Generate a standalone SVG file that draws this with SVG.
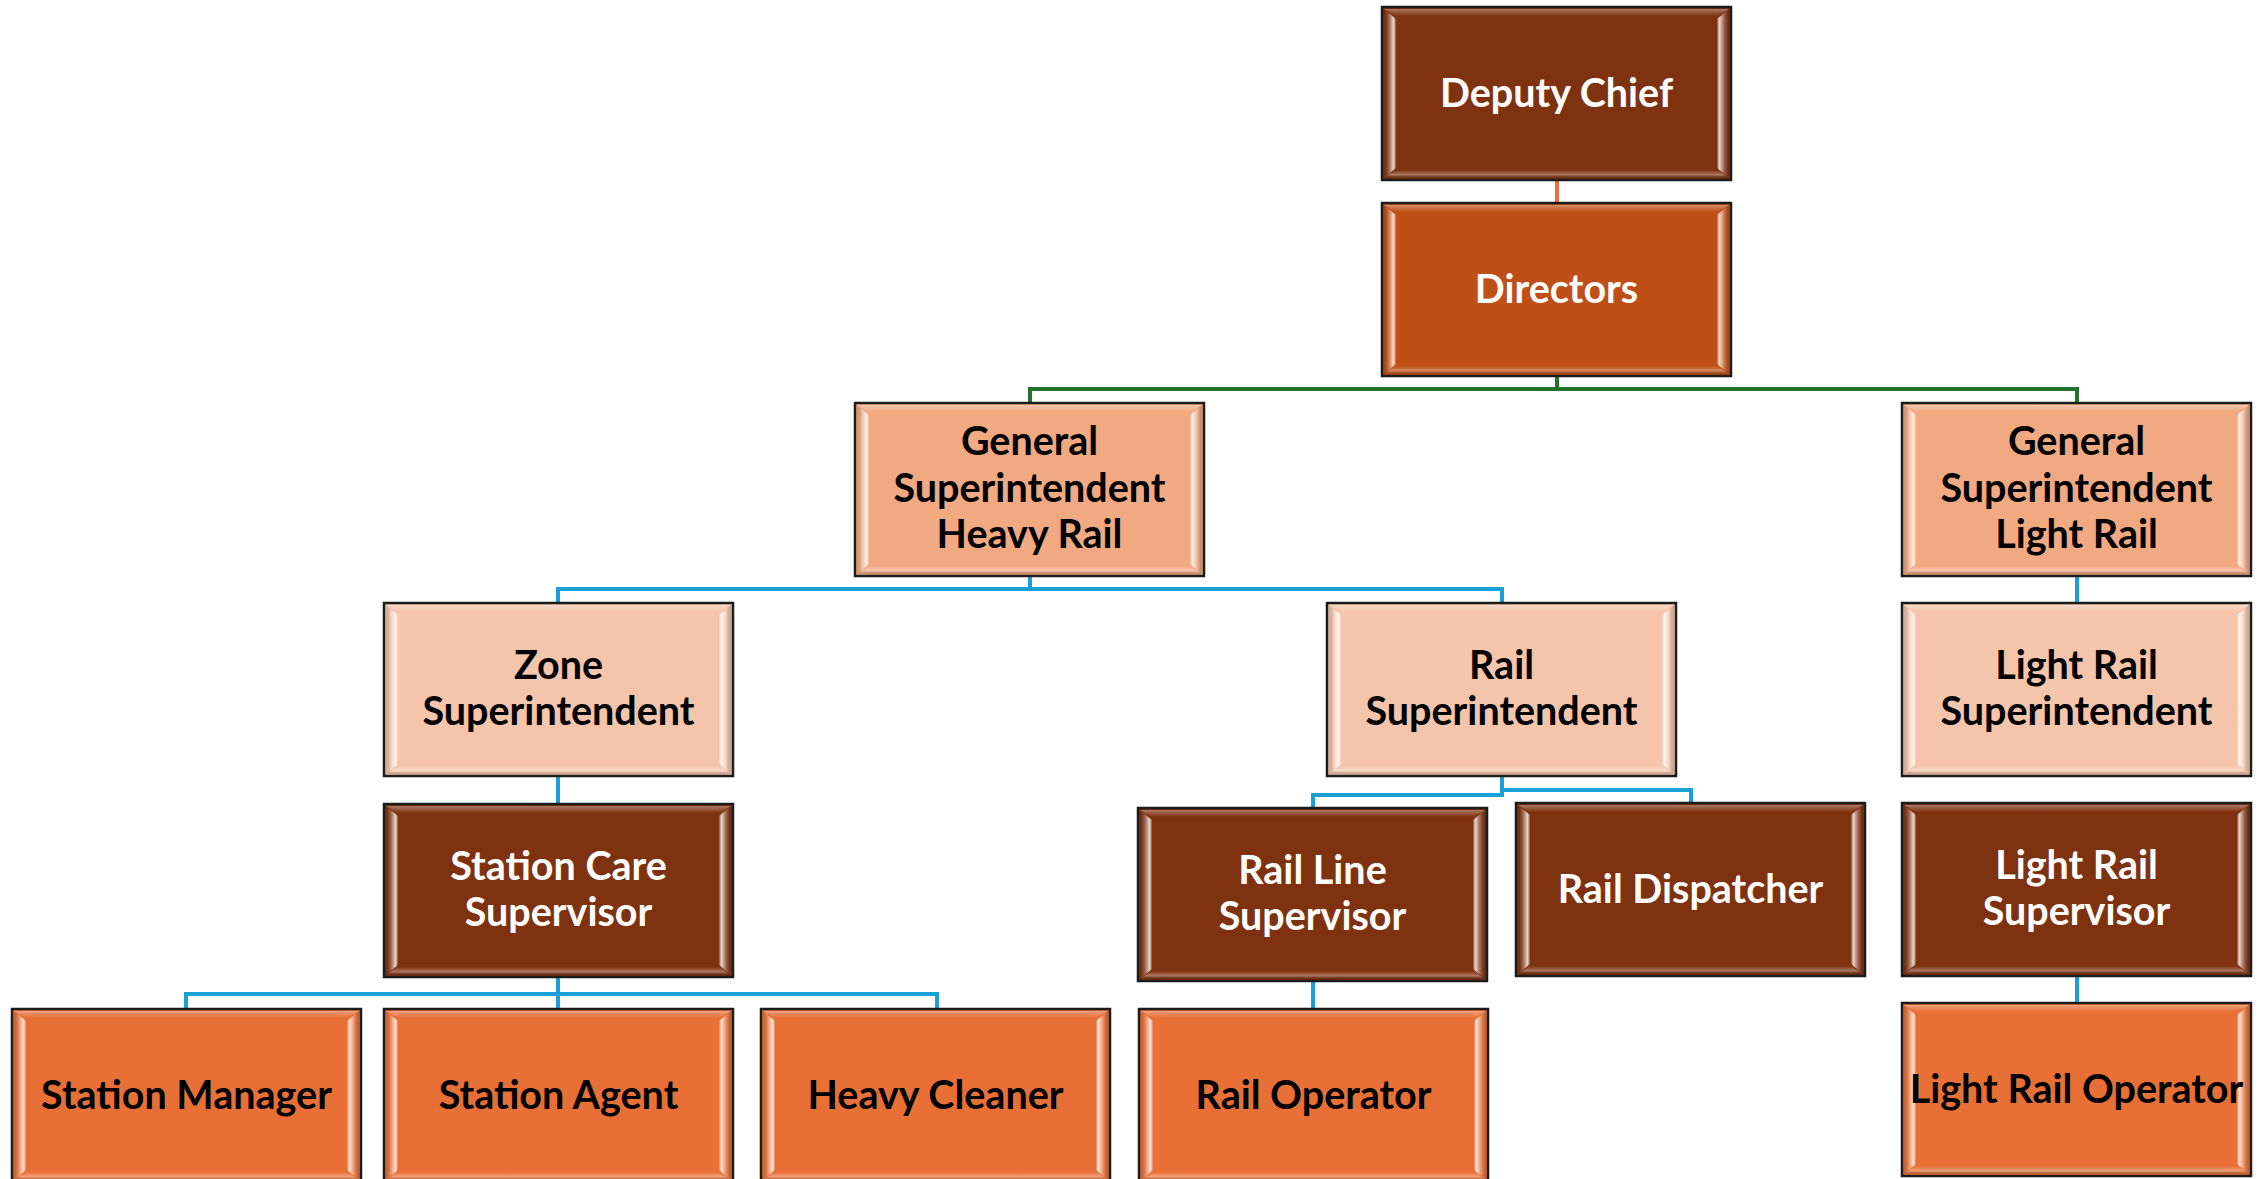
<svg xmlns="http://www.w3.org/2000/svg" xmlns:xlink="http://www.w3.org/1999/xlink" width="2262" height="1179" viewBox="0 0 2262 1179">
<style>
.c1{fill:#7F3210}
.c2{fill:#BF4F16}
.c3{fill:#F1A982}
.c4{fill:#F4C5AB}
.c5{fill:#E86F35}
.bd{fill:none;stroke:#1c1c1c;stroke-width:2.5}
text{font-family:Lato,"Open Sans","Liberation Sans",sans-serif;font-weight:700;font-size:39.5px;text-anchor:middle}
.w{fill:#ffffff}
.k{fill:#000000}
.cn{fill:none;stroke-width:4;stroke-linejoin:miter;stroke-linecap:butt}
.g{stroke:#22722C}
.bl{stroke:#1AA0D8}
.o{stroke:#E8703A}
</style>
<defs>
<linearGradient id="gl" x1="0" y1="0" x2="1" y2="0">
<stop offset="0" stop-color="#000" stop-opacity="0.12"/>
<stop offset="0.45" stop-color="#fff" stop-opacity="0.3"/>
<stop offset="0.8" stop-color="#fff" stop-opacity="0.8"/>
<stop offset="1" stop-color="#fff" stop-opacity="0.15"/>
</linearGradient>
<linearGradient id="gr" x1="0" y1="0" x2="1" y2="0">
<stop offset="0" stop-color="#fff" stop-opacity="0.15"/>
<stop offset="0.2" stop-color="#fff" stop-opacity="0.8"/>
<stop offset="0.55" stop-color="#fff" stop-opacity="0.3"/>
<stop offset="1" stop-color="#000" stop-opacity="0.18"/>
</linearGradient>
<linearGradient id="gt" x1="0" y1="0" x2="0" y2="1">
<stop offset="0" stop-color="#fff" stop-opacity="0.35"/>
<stop offset="1" stop-color="#fff" stop-opacity="0"/>
</linearGradient>
<linearGradient id="gb" x1="0" y1="0" x2="0" y2="1">
<stop offset="0" stop-color="#fff" stop-opacity="0"/>
<stop offset="0.6" stop-color="#fff" stop-opacity="0.35"/>
<stop offset="1" stop-color="#000" stop-opacity="0.2"/>
</linearGradient>
<g id="bev">
<polygon points="2,2 347,2 335,9 14,9" fill="url(#gt)"/>
<polygon points="2,171 347,171 335,163 14,163" fill="url(#gb)"/>
<polygon points="2,2 14,12 14,161 2,171" fill="url(#gl)"/>
<polygon points="347,2 335,12 335,161 347,171" fill="url(#gr)"/>
<rect x="0" y="0" width="349" height="173" class="bd"/>
</g>
</defs>

<g id="connectors">
<path class="cn o" d="M1557,180 V203"/>
<path class="cn g" d="M1557,375 V389 M1030,404 V389 H2077 V404"/>
<path class="cn bl" d="M1030,575 V589 M558,603 V589 H1502 V603"/>
<path class="cn bl" d="M2077,575 V603"/>
<path class="cn bl" d="M558,776 V804"/>
<path class="cn bl" d="M1502,776 V795 H1313 V808"/>
<path class="cn bl" d="M1502,776 V790 H1691 V803"/>
<path class="cn bl" d="M558,976 V994 M186,1009 V994 H937 V1009 M558,994 V1009"/>
<path class="cn bl" d="M1313,981 V1009"/>
<path class="cn bl" d="M2077,976 V1003"/>
</g>

<g id="deputy-chief" transform="translate(1382,7)">
<rect class="c1" width="349" height="173"/><use href="#bev"/>
<text class="w" x="174.5" y="100">Deputy Chief</text>
</g>
<g id="directors" transform="translate(1382,203)">
<rect class="c2" width="349" height="173"/><use href="#bev"/>
<text class="w" x="174.5" y="100">Directors</text>
</g>
<g id="gs-heavy-rail" transform="translate(855,403)">
<rect class="c3" width="349" height="173"/><use href="#bev"/>
<text class="k" x="174.5" y="52">General</text>
<text class="k" x="174.5" y="98.5">Superintendent</text>
<text class="k" x="174.5" y="145">Heavy Rail</text>
</g>
<g id="gs-light-rail" transform="translate(1902,403)">
<rect class="c3" width="349" height="173"/><use href="#bev"/>
<text class="k" x="174.5" y="52">General</text>
<text class="k" x="174.5" y="98.5">Superintendent</text>
<text class="k" x="174.5" y="145">Light Rail</text>
</g>
<g id="zone-superintendent" transform="translate(384,603)">
<rect class="c4" width="349" height="173"/><use href="#bev"/>
<text class="k" x="174.5" y="75.5">Zone</text>
<text class="k" x="174.5" y="121.5">Superintendent</text>
</g>
<g id="rail-superintendent" transform="translate(1327,603)">
<rect class="c4" width="349" height="173"/><use href="#bev"/>
<text class="k" x="174.5" y="75.5">Rail</text>
<text class="k" x="174.5" y="121.5">Superintendent</text>
</g>
<g id="light-rail-superintendent" transform="translate(1902,603)">
<rect class="c4" width="349" height="173"/><use href="#bev"/>
<text class="k" x="174.5" y="75.5">Light Rail</text>
<text class="k" x="174.5" y="121.5">Superintendent</text>
</g>
<g id="station-care-supervisor" transform="translate(384,804)">
<rect class="c1" width="349" height="173"/><use href="#bev"/>
<text class="w" x="174.5" y="75.5">Station Care</text>
<text class="w" x="174.5" y="121.5">Supervisor</text>
</g>
<g id="rail-line-supervisor" transform="translate(1138,808)">
<rect class="c1" width="349" height="173"/><use href="#bev"/>
<text class="w" x="174.5" y="75.5">Rail Line</text>
<text class="w" x="174.5" y="121.5">Supervisor</text>
</g>
<g id="rail-dispatcher" transform="translate(1516,803)">
<rect class="c1" width="349" height="173"/><use href="#bev"/>
<text class="w" x="174.5" y="100">Rail Dispatcher</text>
</g>
<g id="light-rail-supervisor" transform="translate(1902,803)">
<rect class="c1" width="349" height="173"/><use href="#bev"/>
<text class="w" x="174.5" y="75.5">Light Rail</text>
<text class="w" x="174.5" y="121.5">Supervisor</text>
</g>
<g id="station-manager" transform="translate(12,1009)">
<rect class="c5" width="349" height="173"/><use href="#bev"/>
<text class="k" x="174.5" y="100">Station Manager</text>
</g>
<g id="station-agent" transform="translate(384,1009)">
<rect class="c5" width="349" height="173"/><use href="#bev"/>
<text class="k" x="174.5" y="100">Station Agent</text>
</g>
<g id="heavy-cleaner" transform="translate(761,1009)">
<rect class="c5" width="349" height="173"/><use href="#bev"/>
<text class="k" x="174.5" y="100">Heavy Cleaner</text>
</g>
<g id="rail-operator" transform="translate(1139,1009)">
<rect class="c5" width="349" height="173"/><use href="#bev"/>
<text class="k" x="174.5" y="100">Rail Operator</text>
</g>
<g id="light-rail-operator" transform="translate(1902,1003)">
<rect class="c5" width="349" height="173"/><use href="#bev"/>
<text class="k" x="174.5" y="100">Light Rail Operator</text>
</g>
</svg>
